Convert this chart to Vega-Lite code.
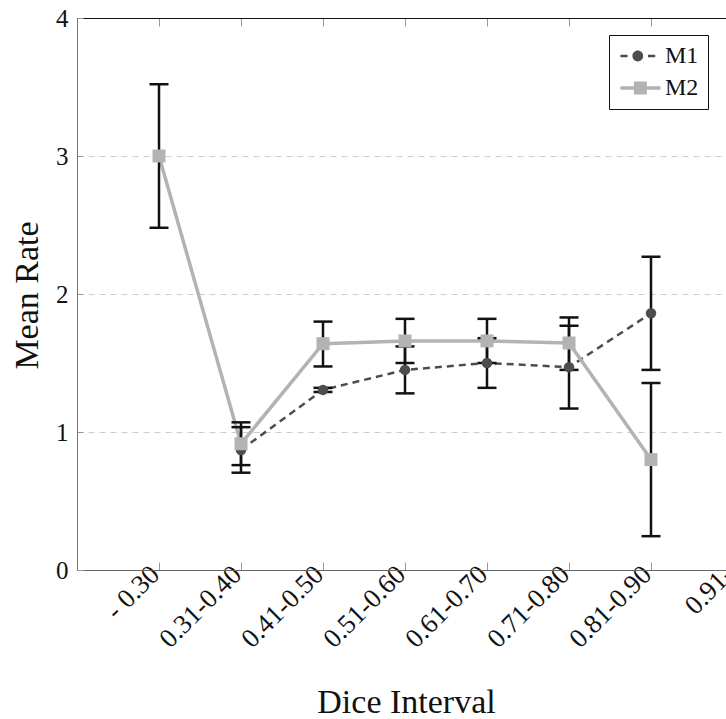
{
  "$schema": "https://vega.github.io/schema/vega-lite/v6.json",
  "width": 649,
  "height": 552,
  "autosize": {"type": "none"},
  "padding": {"left": 77, "top": 18, "right": 0, "bottom": 149},
  "background": "white",
  "config": {
    "font": "Liberation Serif",
    "view": {"stroke": null},
    "axis": {
      "labelFont": "Liberation Serif",
      "titleFont": "Liberation Serif",
      "labelFontSize": 25,
      "titleFontSize": 34,
      "titleFontWeight": "normal",
      "labelColor": "#111",
      "titleColor": "#111"
    },
    "legend": {
      "labelFont": "Liberation Serif", "labelFontSize": 24, "labelColor": "#111",
      "symbolSize": 144, "symbolOpacity": 1, "symbolStrokeWidth": 0,
      "labelOffset": 23, "rowPadding": 8, "padding": 9,
      "fillColor": "white", "strokeColor": "#111", "cornerRadius": 0
    }
  },
  "data": {
    "values": [
      {"interval": "- 0.30", "model": "M2", "mean": 3.0, "lo": 2.48, "hi": 3.52},
      {"interval": "0.31-0.40", "model": "M1", "mean": 0.87, "lo": 0.705, "hi": 1.035},
      {"interval": "0.41-0.50", "model": "M1", "mean": 1.305, "lo": 1.29, "hi": 1.32},
      {"interval": "0.51-0.60", "model": "M1", "mean": 1.45, "lo": 1.28, "hi": 1.62},
      {"interval": "0.61-0.70", "model": "M1", "mean": 1.5, "lo": 1.32, "hi": 1.68},
      {"interval": "0.71-0.80", "model": "M1", "mean": 1.47, "lo": 1.17, "hi": 1.77},
      {"interval": "0.81-0.90", "model": "M1", "mean": 1.86, "lo": 1.45, "hi": 2.27},
      {"interval": "0.31-0.40", "model": "M2", "mean": 0.915, "lo": 0.76, "hi": 1.07},
      {"interval": "0.41-0.50", "model": "M2", "mean": 1.64, "lo": 1.475, "hi": 1.8},
      {"interval": "0.51-0.60", "model": "M2", "mean": 1.66, "lo": 1.5, "hi": 1.82},
      {"interval": "0.61-0.70", "model": "M2", "mean": 1.66, "lo": 1.5, "hi": 1.82},
      {"interval": "0.71-0.80", "model": "M2", "mean": 1.645, "lo": 1.45, "hi": 1.83},
      {"interval": "0.81-0.90", "model": "M2", "mean": 0.8, "lo": 0.245, "hi": 1.355}
    ]
  },
  "layer": [
    {
      "transform": [{"filter": "datum.model === 'M1'"}],
      "mark": {"type": "line", "strokeCap": "butt", "color": "#4d4d4d", "strokeWidth": 2.5, "strokeDash": [7, 5]},
      "encoding": {
        "x": {
          "field": "interval", "type": "nominal",
          "scale": {"type": "point", "domain": ["- 0.30", "0.31-0.40", "0.41-0.50", "0.51-0.60", "0.61-0.70", "0.71-0.80", "0.81-0.90", "0.91-"], "range": [0, 738], "padding": 1},
          "axis": {
            "orient": "bottom", "title": "Dice Interval",
            "labelAngle": -45, "labelAlign": "right", "labelBaseline": "middle",
            "labelPadding": 8, "labelOffset": -4, "labelOverlap": false, "labelFontSize": 27,
            "tickSize": -8, "tickColor": "#999", "domainColor": "#666",
            "titleX": 329, "titleY": 142, "titleBaseline": "alphabetic", "titleAlign": "center"
          }
        },
        "y": {
          "field": "mean", "type": "quantitative", "title": "Mean Rate",
          "scale": {"domain": [0, 4], "nice": false},
          "axis": {
            "values": [0, 1, 2, 3, 4], "format": "d", "grid": true, "gridDash": [6, 5], "gridColor": "#cccccc", "gridWidth": 1.2,
            "tickSize": -6, "tickColor": "#999", "domainColor": "#777", "labelPadding": 15,
            "titleAngle": -90, "titleX": -40, "titleY": 277, "titleAlign": "center", "titleBaseline": "alphabetic"
          }
        }
      }
    },
    {
      "transform": [{"filter": "datum.model === 'M2'"}],
      "mark": {"type": "line", "strokeCap": "butt", "color": "#b3b3b3", "strokeWidth": 3.5},
      "encoding": {
        "x": {"field": "interval", "type": "nominal", "axis": null},
        "y": {"field": "mean", "type": "quantitative", "title": "Mean Rate"}
      }
    },
    {
      "mark": {"type": "rule", "color": "#111", "strokeWidth": 2.5},
      "encoding": {
        "x": {
          "field": "interval", "type": "nominal",
          "axis": {"orient": "top", "labels": false, "title": null, "domainColor": "#111", "tickColor": "#999", "tickSize": -8, "grid": false}
        },
        "y": {"field": "lo", "type": "quantitative", "title": "Mean Rate"},
        "y2": {"field": "hi"}
      }
    },
    {
      "mark": {"type": "tick", "orient": "horizontal", "size": 19, "thickness": 2.5, "color": "#111", "opacity": 1},
      "encoding": {
        "x": {"field": "interval", "type": "nominal", "axis": null},
        "y": {"field": "lo", "type": "quantitative", "title": "Mean Rate"}
      }
    },
    {
      "mark": {"type": "tick", "orient": "horizontal", "size": 19, "thickness": 2.5, "color": "#111", "opacity": 1},
      "encoding": {
        "x": {"field": "interval", "type": "nominal", "axis": null},
        "y": {"field": "hi", "type": "quantitative", "title": "Mean Rate"}
      }
    },
    {
      "transform": [{"filter": "datum.model === 'M1'"}],
      "mark": {"type": "point", "shape": "circle", "filled": true, "opacity": 1, "color": "#4d4d4d", "size": 110},
      "encoding": {
        "x": {"field": "interval", "type": "nominal", "axis": null},
        "y": {"field": "mean", "type": "quantitative", "title": "Mean Rate"}
      }
    },
    {
      "transform": [{"filter": "datum.model === 'M2'"}],
      "mark": {"type": "point", "shape": "square", "filled": true, "opacity": 1, "color": "#b3b3b3", "size": 169},
      "encoding": {
        "x": {"field": "interval", "type": "nominal", "axis": null},
        "y": {"field": "mean", "type": "quantitative", "title": "Mean Rate"}
      }
    },
    {
      "mark": {"type": "point", "filled": true, "opacity": 0, "size": 144},
      "encoding": {
        "x": {"field": "interval", "type": "nominal", "axis": null},
        "y": {"field": "mean", "type": "quantitative", "title": "Mean Rate"},
        "color": {
          "field": "model", "type": "nominal",
          "scale": {"domain": ["M1", "M2"], "range": ["#4d4d4d", "#b3b3b3"]},
          "legend": {"orient": "none", "legendX": 532, "legendY": 17, "title": null}
        },
        "shape": {
          "field": "model", "type": "nominal",
          "scale": {"domain": ["M1", "M2"], "range": [
            "M-1.6,-0.2H-0.4V0.2H-1.6ZM0.4,0A0.9,0.9 0 1,0 2.2,0A0.9,0.9 0 1,0 0.4,0ZM3.0,-0.2H4.2V0.2H3.0Z",
            "M-1.6,-0.28H5.07V0.28H-1.6ZM0.65,-1.08H2.81V1.08H0.65Z"
          ]},
          "legend": {"orient": "none", "legendX": 532, "legendY": 17, "title": null}
        }
      }
    }
  ],
  "resolve": {"axis": {"x": "independent"}}
}
